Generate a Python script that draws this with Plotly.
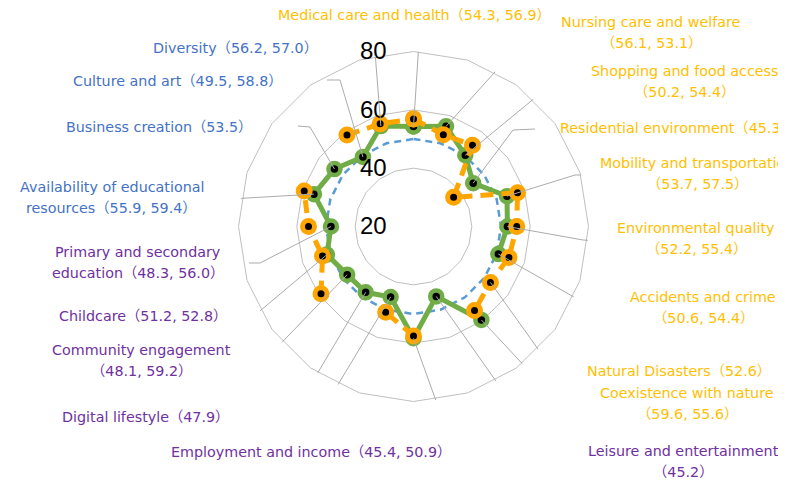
import math
import plotly.graph_objects as go

# ---------------- data ----------------
categories = [
    "Medical care and health", "Nursing care and welfare", "Shopping and food access",
    "Residential environment", "Mobility and transportation", "Environmental quality",
    "Accidents and crime", "Natural Disasters", "Coexistence with nature",
    "Leisure and entertainment", "(label outside the picture)", "Employment and income",
    "Digital lifestyle", "Community engagement", "Childcare",
    "Primary and secondary education", "Availability of educational resources",
    "Business creation", "Culture and art", "Diversity",
]
green_values = [54.3, 56.1, 50.2, 45.3, 53.7, 52.2, 50.6, None, 59.6, 45.2,
                58.3, 45.4, 47.9, 48.1, 51.2, 48.3, 55.9, 53.5, 49.5, 56.2]
orange_values = [56.9, 53.1, 54.4, 37.0, 57.5, 55.4, 54.4, 52.6, 55.6, None,
                 57.5, 50.9, None, 59.2, 52.8, 56.0, 59.4, None, 58.8, 57.0]
reference_values = [50] * len(categories)
radial_ticks = [20, 40, 60, 80]
radial_tick_text = ["20", "40", "60", "80"]

# ---------------- layout / style ----------------
W, H = 786, 484
PAGE_MARGIN = 8          # default body margin of the html page
CX, CY, R_PX = 413.5, 226.5, 175.0   # picture coordinates
R_MIN, R_MAX = 20, 80
GREEN = "#70AD47"
ORANGE = "#FFA500"
BLUE = "#5B9BD5"
GRID = "#BFBFBF"
LEADER = "#ABABAB"
YELLOW_TXT = "#FFC000"
PURPLE_TXT = "#7030A0"
BLUE_TXT = "#4472C4"
LABEL_FONT = "DejaVu Sans, Noto Sans CJK JP, sans-serif"
LABEL_SIZE = 14.3

label_colors = [YELLOW_TXT] * 9 + [PURPLE_TXT] * 7 + [BLUE_TXT] * 4
# label placement: (x px, y px of first line, xanchor, split)  split: None single line,
# "v" -> values on 2nd line, int n -> first n words on 1st line
label_layout = [
    (414, 15, "center", None),
    (651, 22, "center", "v"),
    (684, 71, "center", "v"),
    (558, 128, "left", None),
    (697, 163, "center", "v"),
    (696, 228, "center", "v"),
    (703, 297, "center", "v"),
    (679, 371, "center", None),
    (687, 393, "center", "v"),
    (683, 451, "center", "v"),
    None,
    (311, 452, "center", None),
    (145, 417, "center", None),
    (141, 350, "center", "v"),
    (143, 316, "center", None),
    (138, 252, "center", 3),
    (112, 187, "center", 3),
    (159, 127, "center", None),
    (178, 81, "center", None),
    (235, 48, "center", None),
]
LINE_GAP = 21
# leader line bend / end points in pixels
leader_px = [
    [(419, 42)],
    [(530, 33), (540, 33)],
    [(553, 83), (566, 83)],
    [(513, 130), (535, 129)],
    [(575, 175), (583, 175)],
    [(583, 240), (598, 241)],
    [(595, 309), (608, 310)],
    [(553, 370), (566, 370)],
    [(562, 406), (573, 406)],
    [(553, 462), (567, 462)],
    [(458, 462), (462, 490)],
    [(315, 423)],
    [(292, 416), (280, 416)],
    [(263, 362), (252, 362)],
    [(254, 316), (242, 316)],
    [(260, 263), (249, 263)],
    [(230, 199)],
    [(310, 127), (298, 126)],
    [(340, 80), (327, 80)],
    [(375, 52)],
]

n = len(categories)
step = 360.0 / n


def px_to_polar(x, y):
    dx, dy = x - CX, y - CY
    r = R_MIN + math.hypot(dx, dy) * (R_MAX - R_MIN) / R_PX
    th = math.degrees(math.atan2(dx, -dy)) % 360
    return r, th


def paper_x(x):
    return (x - PAGE_MARGIN) / W


def paper_y(y):
    return 1 - (y - PAGE_MARGIN) / H


def closed(vals):
    return list(vals) + [vals[0]]


theta_closed = closed(categories)

fig = go.Figure()

# reference circle
fig.add_trace(go.Scatterpolar(
    r=closed(reference_values), theta=theta_closed, mode="lines",
    line=dict(color=BLUE, width=2.5, dash="7px,5px"), subplot="polar",
    hoverinfo="skip", showlegend=False))

# green series
fig.add_trace(go.Scatterpolar(
    r=closed(green_values), theta=theta_closed, mode="lines+markers",
    connectgaps=False, line=dict(color=GREEN, width=5),
    marker=dict(size=12, color="black", line=dict(color=GREEN, width=4.5)),
    subplot="polar", showlegend=False))

# orange series
fig.add_trace(go.Scatterpolar(
    r=closed(orange_values), theta=theta_closed, mode="lines+markers",
    connectgaps=False, line=dict(color=ORANGE, width=5, dash="13px,8px"),
    marker=dict(size=12, color="black", line=dict(color=ORANGE, width=5)),
    subplot="polar", showlegend=False))

# leader lines (on an overlaid numeric polar subplot with identical geometry)
for i in range(n):
    start = green_values[i] if green_values[i] is not None else orange_values[i]
    rs, ths = [start], [i * step]
    for (x, y) in leader_px[i]:
        r, th = px_to_polar(x, y)
        if th - ths[-1] > 180:
            th -= 360
        elif ths[-1] - th > 180:
            th += 360
        rs.append(r)
        ths.append(th)
    fig.add_trace(go.Scatterpolar(
        r=rs, theta=ths, mode="lines", line=dict(color=LEADER, width=1),
        cliponaxis=False, subplot="polar2", hoverinfo="skip", showlegend=False))

# labels
annotations = []
for i in range(n):
    lay = label_layout[i]
    if lay is None:
        continue
    x, y, anchor, split = lay
    vals = [v for v in (green_values[i], orange_values[i]) if v is not None]
    vtxt = "（" + ", ".join(f"{v:.1f}" for v in vals) + "）"
    name = categories[i]
    if split is None:
        lines = [name + vtxt]
    elif split == "v":
        lines = [name, vtxt]
    else:
        words = name.split(" ")
        lines = [" ".join(words[:split]), " ".join(words[split:]) + vtxt]
    for k, t in enumerate(lines):
        annotations.append(dict(
            x=paper_x(x), y=paper_y(y + k * LINE_GAP), xref="paper", yref="paper",
            text=t, showarrow=False, xanchor=anchor, yanchor="middle",
            font=dict(family=LABEL_FONT, size=LABEL_SIZE, color=label_colors[i])))

cx_p, cy_p = CX - PAGE_MARGIN, CY - PAGE_MARGIN
dom_x = [(cx_p - R_PX) / W, (cx_p + R_PX) / W]
dom_y = [(H - cy_p - R_PX) / H, (H - cy_p + R_PX) / H]

fig.update_layout(
    width=W, height=H, margin=dict(l=0, r=0, t=0, b=0),
    paper_bgcolor="white", plot_bgcolor="white",
    annotations=annotations,
    polar=dict(
        domain=dict(x=dom_x, y=dom_y), bgcolor="white", gridshape="linear",
        angularaxis=dict(type="category", rotation=90, direction="clockwise",
                         showgrid=False, showticklabels=False, ticks="",
                         showline=True, linecolor=GRID, linewidth=1),
        radialaxis=dict(range=[R_MIN, R_MAX], tickvals=radial_ticks, ticktext=radial_tick_text,
                        showline=False, gridcolor=GRID, gridwidth=1, angle=90,
                        tickangle=90, side="counterclockwise", ticks="outside",
                        ticklen=18, tickcolor="rgba(0,0,0,0)",
                        tickfont=dict(family="Liberation Sans, Arial", size=24, color="black")),
    ),
    polar2=dict(
        domain=dict(x=dom_x, y=dom_y), bgcolor="rgba(0,0,0,0)",
        angularaxis=dict(type="linear", rotation=90, direction="clockwise",
                         visible=False, showgrid=False, showline=False),
        radialaxis=dict(range=[R_MIN, R_MAX], visible=False, showgrid=False),
    ),
    showlegend=False,
)

fig.write_html("out.html")
